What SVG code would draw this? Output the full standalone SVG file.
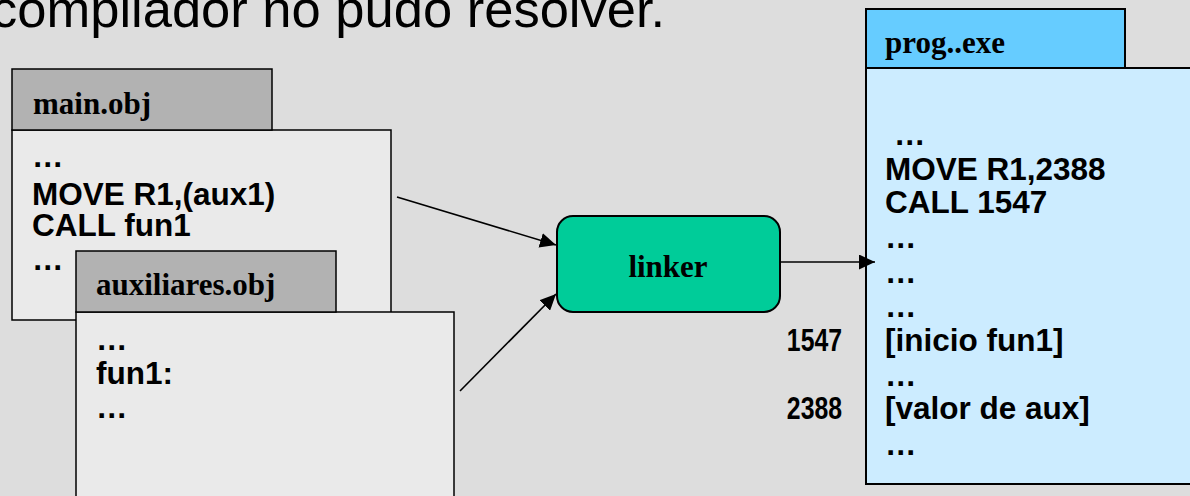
<svg xmlns="http://www.w3.org/2000/svg" width="1190" height="496" viewBox="0 0 1190 496">
  <style>
    .tab { fill: #B2B2B2; stroke: #000; stroke-width: 1.5; }
    .body { fill: #EAEAEA; stroke: #000; stroke-width: 1.5; }
    .tabB { fill: #66CCFF; stroke: #000; stroke-width: 2; }
    .bodyB { fill: #CCECFF; stroke: #000; stroke-width: 2; }
    .linker { fill: #00CC99; stroke: #000; stroke-width: 2; }
    .title { font-family: "Liberation Serif", "Times New Roman", serif; font-weight: bold; font-size: 31px; fill: #000; }
    .code { font-family: "Liberation Sans", Arial, sans-serif; font-weight: bold; font-size: 31.5px; fill: #000; }
    .addr { font-family: "Liberation Sans", Arial, sans-serif; font-weight: bold; font-size: 31px; fill: #000; }
    .head { font-family: "Liberation Sans", Arial, sans-serif; font-size: 52.5px; fill: #000; }
    .conn { stroke: #000; stroke-width: 1.6; fill: none; marker-end: url(#arrow); }
  </style>
  <defs>
    <marker id="arrow" viewBox="0 0 10 10" refX="10" refY="5" markerWidth="16" markerHeight="15" markerUnits="userSpaceOnUse" orient="auto" preserveAspectRatio="none">
      <path d="M0,0 L10,5 L0,10 z" fill="#000"/>
    </marker>
  </defs>

  <!-- background -->
  <rect x="0" y="0" width="1190" height="496" fill="#DDDDDD"/>

  <!-- heading line, partly above the top edge -->
  <text class="head" x="-9" y="27">compilador no pudo resolver.</text>

  <!-- main.obj -->
  <g id="main-obj">
    <rect class="body" x="12" y="130" width="379" height="190"/>
    <rect class="tab" x="12" y="69" width="260" height="61"/>
    <text class="title" x="33" y="114">main.obj</text>
    <text class="code" x="32" y="167">…</text>
    <text class="code" x="32" y="205">MOVE R1,(aux1)</text>
    <text class="code" x="32" y="236">CALL fun1</text>
    <text class="code" x="32" y="270">…</text>
  </g>

  <!-- auxiliares.obj -->
  <g id="auxiliares-obj">
    <rect class="body" x="76" y="312" width="378" height="200"/>
    <rect class="tab" x="76" y="251" width="260" height="61"/>
    <text class="title" x="96" y="295">auxiliares.obj</text>
    <text class="code" x="96" y="350">…</text>
    <text class="code" x="96" y="384">fun1:</text>
    <text class="code" x="96" y="418">…</text>
  </g>

  <!-- linker -->
  <g id="linker">
    <rect class="linker" x="557" y="216" width="223" height="96" rx="16" ry="16"/>
    <text class="title" x="668" y="277" text-anchor="middle">linker</text>
  </g>

  <!-- prog..exe -->
  <g id="prog-exe">
    <rect class="bodyB" x="866" y="68" width="340" height="416"/>
    <rect class="tabB" x="866" y="9" width="259" height="59"/>
    <text class="title" x="885" y="53">prog..exe</text>
    <text class="code" x="894" y="145">…</text>
    <text class="code" x="885" y="180">MOVE R1,2388</text>
    <text class="code" x="885" y="213">CALL 1547</text>
    <text class="code" x="885" y="248">…</text>
    <text class="code" x="885" y="283">…</text>
    <text class="code" x="885" y="317">…</text>
    <text class="code" x="885" y="351">[inicio fun1]</text>
    <text class="code" x="885" y="386">…</text>
    <text class="code" x="885" y="419">[valor de aux]</text>
    <text class="code" x="885" y="455">…</text>
  </g>

  <!-- memory addresses beside the executable -->
  <g id="addresses">
    <text class="addr" text-anchor="end" transform="translate(842,351) scale(0.8,1)">1547</text>
    <text class="addr" text-anchor="end" transform="translate(842,419) scale(0.8,1)">2388</text>
  </g>

  <!-- connectors -->
  <g id="connectors">
    <line class="conn" x1="397" y1="197" x2="556" y2="245"/>
    <line class="conn" x1="460" y1="391" x2="556" y2="294"/>
    <line class="conn" x1="780" y1="262" x2="875" y2="262"/>
  </g>
</svg>
